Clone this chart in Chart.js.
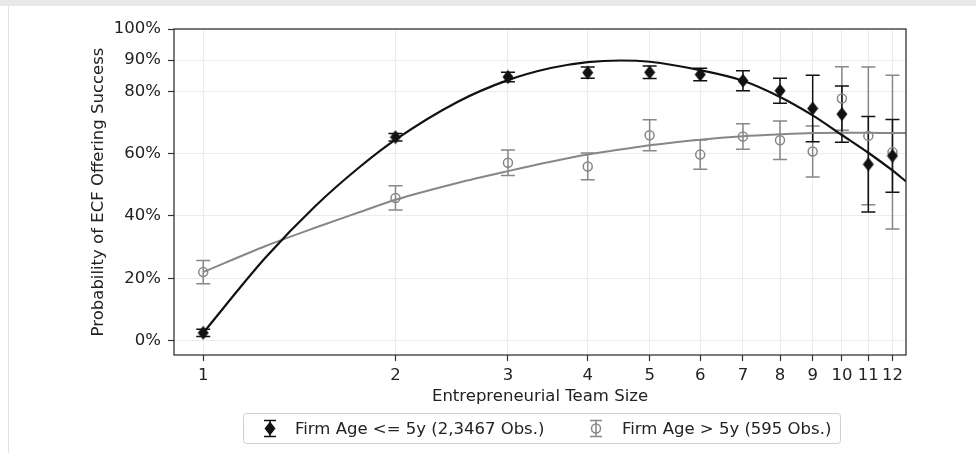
<!DOCTYPE html>
<html>
<head>
<meta charset="utf-8">
<script src="https://cdn.jsdelivr.net/npm/chart.js@4.4.0/dist/chart.umd.min.js"></script>
<style>
  html, body { margin: 0; padding: 0; background: #fff; }
  #wrap { position: relative; width: 976px; height: 453px; overflow: hidden; }
  #wrap canvas { position: absolute; left: 0; top: 0; }
  #topband { position: absolute; left: 0; top: 0; width: 976px; height: 6px; background: #e9e9e9; }
  #leftline { position: absolute; left: 8px; top: 6px; width: 1px; height: 447px; background: #e2e2e2; }
</style>
</head>
<body>
<div id="wrap">
  <canvas id="chart" width="976" height="453"></canvas>
  <div id="topband"></div>
  <div id="leftline"></div>
</div>
<script>
// team sizes on the x axis
const teamSizes = [1, 2, 3, 4, 5, 6, 7, 8, 9, 10, 11, 12];

// Firm Age <= 5y : mean probability (%) and half error bar
const youngMean = [2.5, 65.3, 84.6, 86.0, 86.1, 85.4, 83.4, 80.2, 74.5, 72.7, 56.6, 59.3];
const youngErr = [1.2, 1.2, 1.5, 1.8, 2.0, 2.0, 3.2, 4.0, 10.7, 9.0, 15.3, 11.7];

// Firm Age > 5y
const oldMean = [22.0, 45.8, 57.1, 55.9, 65.9, 59.7, 65.5, 64.3, 60.7, 77.7, 65.7, 60.5];
const oldErr = [3.7, 3.9, 4.1, 4.3, 5.0, 4.7, 4.1, 6.2, 8.2, 10.2, 22.1, 24.7];

// fitted curves
const fitX = [1, 1.25, 1.5, 1.75, 2, 2.5, 3, 3.5, 4, 4.5, 5, 6, 7, 8, 9, 10, 11, 12, 12.6];
const youngFit = [2.5, 26.5, 43.3, 55.4, 64.5, 76.6, 83.6, 87.5, 89.4, 89.9, 89.5, 86.8, 83.4, 78.2, 72.3, 66.0, 60.3, 54.6, 51.1];
const oldFit = [22.0, 30.3, 36.3, 41.1, 45.2, 50.6, 54.4, 57.4, 59.7, 61.3, 62.7, 64.5, 65.6, 66.2, 66.6, 66.7, 66.7, 66.6, 66.6];

// tick labels
const xTicks = [1, 2, 3, 4, 5, 6, 7, 8, 9, 10, 11, 12];
const yTicks = [0, 20, 40, 60, 80, 90, 100];

const BLACK = "#111111";
const GRAY = "#878787";
const FONT_SIZE = 16.5;

Chart.defaults.font.family = "'DejaVu Sans', sans-serif";
Chart.defaults.font.size = FONT_SIZE;
Chart.defaults.color = "#222";

const toPts = (xs, ys) => xs.map((x, i) => ({ x: x, y: ys[i] }));

// thin diamond marker (taller than wide)
const diamond = document.createElement("canvas");
diamond.width = 12;
diamond.height = 15;
(() => {
  const c = diamond.getContext("2d");
  c.fillStyle = BLACK;
  c.beginPath();
  c.moveTo(6, 0.5);
  c.lineTo(11.5, 7.5);
  c.lineTo(6, 14.5);
  c.lineTo(0.5, 7.5);
  c.closePath();
  c.fill();
})();

const errorBars = {
  id: "errorBars",
  beforeDatasetsDraw(chart) {
    const { ctx, scales } = chart;
    ctx.save();
    [2, 0].forEach((i) => {
      const ds = chart.data.datasets[i];
      ctx.strokeStyle = ds.borderColor;
      ctx.lineWidth = 1.5;
      ds.data.forEach((p, j) => {
        const px = scales.x.getPixelForValue(p.x);
        const top = scales.y.getPixelForValue(p.y + ds.err[j]);
        const bot = scales.y.getPixelForValue(p.y - ds.err[j]);
        ctx.beginPath();
        ctx.moveTo(px, top);
        ctx.lineTo(px, bot);
        ctx.moveTo(px - 7, top);
        ctx.lineTo(px + 7, top);
        ctx.moveTo(px - 7, bot);
        ctx.lineTo(px + 7, bot);
        ctx.stroke();
      });
    });
    ctx.restore();
  },
};

const frame = {
  id: "frame",
  afterDatasetsDraw(chart) {
    const { ctx, chartArea } = chart;
    ctx.save();
    ctx.strokeStyle = "#333";
    ctx.lineWidth = 1.3;
    ctx.strokeRect(chartArea.left, chartArea.top, chartArea.width, chartArea.height);
    ctx.restore();
  },
};

const legendBox = {
  id: "legendBox",
  afterDraw(chart) {
    const ctx = chart.ctx;
    const items = [chart.data.datasets[0], chart.data.datasets[2]];
    const iconX = [270, 596];
    const textX = [295, 622];
    const box = { x: 243.5, y: 413.5, w: 597, h: 30 };
    const cy = box.y + box.h / 2;
    ctx.save();
    ctx.fillStyle = "rgba(255,255,255,0.9)";
    ctx.strokeStyle = "#cfcfcf";
    ctx.lineWidth = 1;
    ctx.beginPath();
    ctx.roundRect(box.x, box.y, box.w, box.h, 3);
    ctx.fill();
    ctx.stroke();

    items.forEach((ds, k) => {
      const ix = iconX[k];
      ctx.strokeStyle = ds.borderColor;
      ctx.lineWidth = 1.5;
      ctx.beginPath();
      ctx.moveTo(ix, cy - 8);
      ctx.lineTo(ix, cy + 8);
      ctx.moveTo(ix - 6, cy - 8);
      ctx.lineTo(ix + 6, cy - 8);
      ctx.moveTo(ix - 6, cy + 8);
      ctx.lineTo(ix + 6, cy + 8);
      ctx.stroke();
      ctx.fillStyle = ds.backgroundColor;
      ctx.lineWidth = ds.pointBorderWidth || 1;
      Chart.helpers.drawPoint(ctx, { pointStyle: ds.pointStyle, radius: ds.pointRadius, borderWidth: ds.pointBorderWidth || 1, rotation: 0 }, ix, cy);
      ctx.fillStyle = "#222";
      ctx.font = FONT_SIZE + "px 'DejaVu Sans', sans-serif";
      ctx.textBaseline = "middle";
      ctx.fillText(ds.label, textX[k], cy + 1);
    });
    ctx.restore();
  },
};

new Chart(document.getElementById("chart"), {
  type: "scatter",
  data: {
    datasets: [
      {
        label: "Firm Age <= 5y (2,3467 Obs.)",
        data: toPts(teamSizes, youngMean),
        err: youngErr,
        pointStyle: diamond,
        pointRadius: 6,
        pointBorderWidth: 1,
        backgroundColor: BLACK,
        borderColor: BLACK,
        order: 0,
      },
      {
        label: "young fit",
        data: toPts(fitX, youngFit),
        showLine: true,
        pointRadius: 0,
        borderColor: BLACK,
        borderWidth: 2.2,
        cubicInterpolationMode: "monotone",
        order: 1,
      },
      {
        label: "Firm Age > 5y (595 Obs.)",
        data: toPts(teamSizes, oldMean),
        err: oldErr,
        pointStyle: "circle",
        pointRadius: 4.5,
        pointBorderWidth: 1.5,
        backgroundColor: "rgba(0,0,0,0)",
        borderColor: GRAY,
        order: 2,
      },
      {
        label: "old fit",
        data: toPts(fitX, oldFit),
        showLine: true,
        pointRadius: 0,
        borderColor: GRAY,
        borderWidth: 2,
        cubicInterpolationMode: "monotone",
        order: 3,
      },
    ],
  },
  options: {
    responsive: false,
    animation: false,
    layout: { padding: { left: 80, top: 29, right: 70, bottom: 43 } },
    plugins: {
      legend: { display: false },
      tooltip: { enabled: false },
    },
    scales: {
      x: {
        type: "logarithmic",
        min: 0.9,
        max: 12.6,
        afterBuildTicks: (s) => {
          s.ticks = xTicks.map((v) => ({ value: v }));
        },
        afterFit: (s) => {
          s.height = 55;
        },
        ticks: { callback: (v) => String(v), autoSkip: false, maxRotation: 0, padding: 5, color: "#222" },
        grid: { color: "#ececec", lineWidth: 1, tickColor: "#333", tickLength: 6, tickWidth: 1.2 },
        border: { display: false },
        title: { display: true, text: "Entrepreneurial Team Size", padding: { top: 0, bottom: 3 }, color: "#222" },
      },
      y: {
        min: -4.6,
        max: 100,
        afterBuildTicks: (s) => {
          s.ticks = yTicks.map((v) => ({ value: v }));
        },
        afterFit: (s) => {
          s.width = 94;
        },
        ticks: { callback: (v) => v + "%", padding: 7, color: "#222" },
        grid: { color: "#ececec", lineWidth: 1, tickColor: "#333", tickLength: 6, tickWidth: 1.2 },
        border: { display: false },
        title: { display: true, text: "Probability of ECF Offering Success", padding: { top: 9, bottom: 0 }, color: "#222" },
      },
    },
  },
  plugins: [errorBars, frame, legendBox],
});
</script>
</body>
</html>
